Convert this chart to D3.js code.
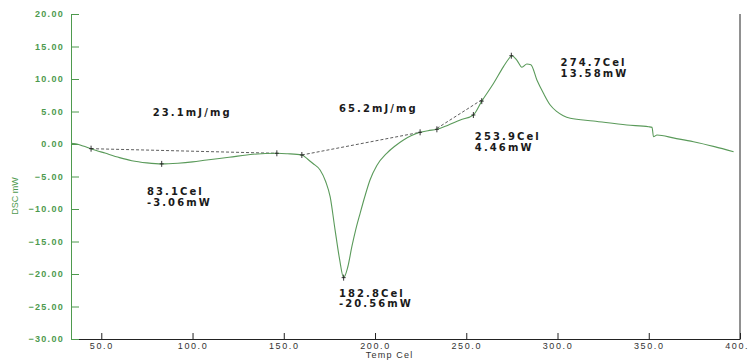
<!DOCTYPE html>
<html>
<head>
<meta charset="utf-8">
<script src="https://cdn.jsdelivr.net/npm/d3@7"></script>
<style>
  body { margin: 0; background: #fff; }
  svg { display: block; }
</style>
</head>
<body>
<div id="container"></div>
<script>
/* CONSTANTS AND GLOBALS */
const width = 748,
  height = 360,
  margin = {top: 14, bottom: 21, left: 71, right: 8};

const green = "#4e9a4e",
  curveColor = "#5a9a5a";

/* DATA */
// temperature in Cel
const tempC = [33.4, 36, 40, 44.4, 52, 60, 66.7, 75, 83.1, 92, 100, 107.8, 120, 133.2, 146.2, 152, 159.9,
  163, 166, 169.9, 173, 175.4, 178.1, 180.5, 182.8, 185, 187.3, 189.5, 191.8, 194.5, 197.3, 201,
  206.4, 211, 215.6, 220, 224.7, 229, 233.9, 240, 246.7, 253.9, 258.5, 264.9, 270.4, 273, 275.0,
  277.7, 280.5, 283.2, 285.4, 288.7, 292.3, 296.0, 299.7, 307.0, 319.7, 338.0, 349.9, 351.8, 352.6,
  354.5, 364, 374.5, 386, 396.5];
// heat flow in mW
const dscMW = [0.1, 0.05, -0.3, -0.72, -1.4, -2.1, -2.57, -2.9, -3.06, -2.95, -2.75, -2.46, -2.05, -1.58, -1.43, -1.5, -1.69,
  -2.3, -3.0, -4.0, -5.8, -8.1, -13.2, -17.6, -20.56, -19.0, -15.8, -13.1, -10.7, -8.0, -5.5, -3.3,
  -1.43, -0.3, 0.62, 1.3, 1.8, 2.05, 2.26, 2.9, 3.7, 4.46, 6.6, 9.3, 11.9, 13.0, 13.58,
  12.9, 11.8, 12.3, 12.2, 9.85, 7.8, 6.0, 4.97, 3.95, 3.54, 2.92, 2.66, 2.56, 1.12,
  1.38, 0.9, 0.35, -0.4, -1.18];

// integration baselines and onset tangent (dashed)
const baseline1 = [[44.4, -0.72], [146.2, -1.43]];
const baseline2 = [[159.9, -1.69], [224.7, 1.8]];
const tangent = [[233.9, 2.4], [258.5, 6.8]];

// evaluation marks on the curve
const markTemp = [44.4, 83.1, 146.2, 159.9, 182.8, 224.7, 233.9, 253.9, 258.5, 274.7];
const markMW = [-0.72, -3.06, -1.43, -1.69, -20.56, 1.8, 2.26, 4.46, 6.6, 13.58];

// annotation texts, anchored in data units
const noteText = [["23.1mJ/mg"], ["65.2mJ/mg"], ["83.1Cel", "-3.06mW"], ["182.8Cel", "-20.56mW"],
  ["253.9Cel", "4.46mW"], ["274.7Cel", "13.58mW"]];
const noteX = [78.2, 180.2, 75, 180.2, 254.7, 301.7];
const noteY = [4.3, 4.85, -7.85, -23.5, 0.6, 12.0];

const yTicks = d3.range(-30, 21, 5);
const xTicks = d3.range(50, 401, 50);

/* SCALES */
const xScale = d3.scaleLinear()
  .domain([33.4, 400])
  .range([margin.left, width - margin.right]);

const yScale = d3.scaleLinear()
  .domain([-30, 20])
  .range([height - margin.bottom, margin.top]);

/* SVG */
const svg = d3.select("#container")
  .append("svg")
  .attr("width", width)
  .attr("height", height);

// + AXES
const yAxis = d3.axisLeft(yScale)
  .tickValues(yTicks)
  .tickFormat(d3.format(".2f"))
  .tickSizeInner(-8)
  .tickSizeOuter(0)
  .tickPadding(7);

const xAxis = d3.axisBottom(xScale)
  .tickValues(xTicks)
  .tickFormat(d3.format(".1f"))
  .tickSizeInner(-6)
  .tickSizeOuter(0)
  .tickPadding(4);

const gx = svg.append("g")
  .attr("transform", `translate(0,${height - margin.bottom})`)
  .call(xAxis);
gx.select(".domain").attr("stroke", "#222");
gx.selectAll(".tick line").attr("stroke", "#222");
gx.selectAll(".tick text")
  .attr("fill", "#333")
  .style("font-family", "Arial, 'Liberation Sans', sans-serif")
  .style("font-size", "9px")
  .style("letter-spacing", "1.6px");

const gy = svg.append("g")
  .attr("transform", `translate(${margin.left},0)`)
  .call(yAxis);
gy.select(".domain").attr("stroke", green);
gy.selectAll(".tick line").attr("stroke", green);
gy.selectAll(".tick text")
  .attr("fill", green)
  .style("font-family", "Arial, 'Liberation Sans', sans-serif")
  .style("font-size", "9px")
  .style("font-weight", "bold")
  .style("letter-spacing", "1.3px");

// right frame line
svg.append("line")
  .attr("x1", xScale(400)).attr("x2", xScale(400))
  .attr("y1", yScale(20)).attr("y2", yScale(-30))
  .attr("stroke", "#222");

// axis titles
svg.append("text")
  .attr("transform", `translate(18,${yScale(-8)}) rotate(-90)`)
  .attr("text-anchor", "middle")
  .attr("fill", green)
  .style("font-family", "'Liberation Sans Narrow', Arial, sans-serif")
  .style("font-size", "9px")
  .text("DSC mW");

svg.append("text")
  .attr("x", xScale(208))
  .attr("y", 358)
  .attr("text-anchor", "middle")
  .attr("fill", "#333")
  .style("font-family", "Arial, 'Liberation Sans', sans-serif")
  .style("font-size", "9px")
  .style("letter-spacing", "1.2px")
  .text("Temp Cel");

/* DASHED BASELINES */
const seg = d3.line().x(d => xScale(d[0])).y(d => yScale(d[1]));
svg.selectAll("path.base")
  .data([baseline1, baseline2, tangent])
  .join("path")
  .attr("class", "base")
  .attr("d", seg)
  .attr("fill", "none")
  .attr("stroke", "#333")
  .attr("stroke-width", 0.8)
  .attr("stroke-dasharray", "3,2");

/* DSC CURVE */
const curve = d3.line()
  .x(d => xScale(d[0]))
  .y(d => yScale(d[1]))
  .curve(d3.curveMonotoneX);

svg.append("path")
  .datum(tempC.map((t, i) => [t, dscMW[i]]))
  .attr("d", curve)
  .attr("fill", "none")
  .attr("stroke", curveColor)
  .attr("stroke-width", 1.1);

/* MARKS */
svg.selectAll("path.mark")
  .data(markTemp.map((t, i) => [t, markMW[i]]))
  .join("path")
  .attr("class", "mark")
  .attr("d", d => {
    const cx = xScale(d[0]), cy = yScale(d[1]);
    return `M${cx},${cy - 3}V${cy + 3}M${cx - 2},${cy}H${cx + 2}`;
  })
  .attr("stroke", "#222")
  .attr("stroke-width", 0.9);

/* ANNOTATIONS */
const notes = svg.selectAll("text.note")
  .data(noteText)
  .join("text")
  .attr("class", "note")
  .attr("x", (d, i) => xScale(noteX[i]))
  .attr("y", (d, i) => yScale(noteY[i]))
  .attr("fill", "#1a1a1a")
  .style("font-family", "'DejaVu Sans', Verdana, sans-serif")
  .style("font-size", "10px")
  .style("font-weight", "bold")
  .style("letter-spacing", "2.1px");

notes.selectAll("tspan")
  .data(d => d)
  .join("tspan")
  .attr("x", function() { return this.parentNode.getAttribute("x"); })
  .attr("dy", (d, i) => i === 0 ? 0 : 10.5)
  .text(d => d);
</script>
</body>
</html>
